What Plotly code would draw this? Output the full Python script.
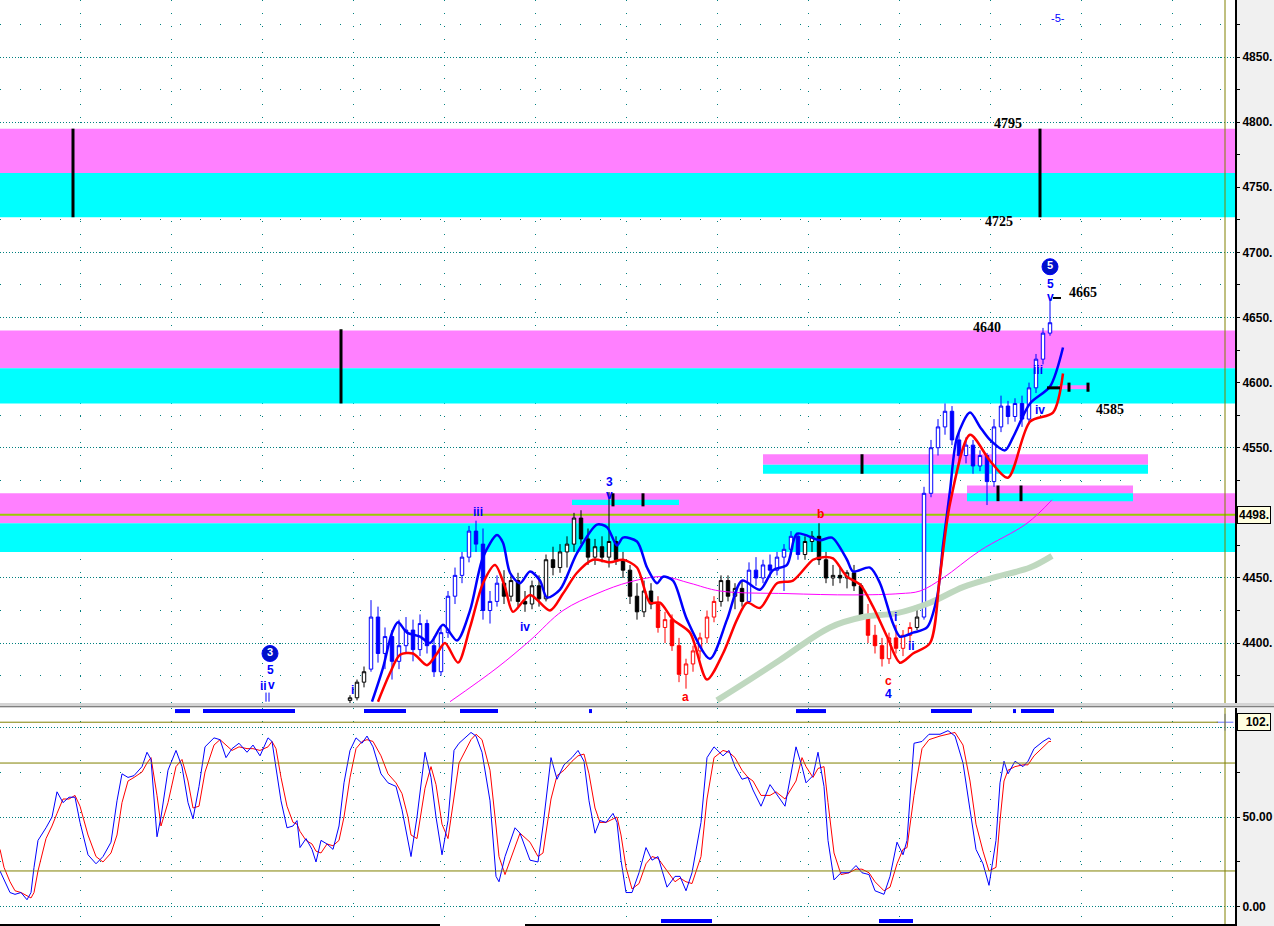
import plotly.graph_objects as go

# ------------------------------------------------------------------ data
bar_start = 350          # time of first visible candle
bar_step = 7             # time units per bar

opens = [4356, 4358, 4370, 4380, 4420, 4392, 4405, 4386, 4398, 4410, 4395, 4415, 4398, 4378, 4408, 4436, 4452, 4466, 4486, 4476,
         4425, 4432, 4446, 4436, 4448, 4432, 4430, 4444, 4434, 4464, 4458, 4470, 4476, 4496, 4480, 4466, 4474, 4466, 4478, 4464,
         4456, 4436, 4424, 4440, 4430, 4412, 4418, 4398, 4376, 4384, 4394, 4404, 4420, 4432, 4448, 4436, 4442, 4432, 4456, 4450,
         4460, 4456, 4466, 4472, 4482, 4468, 4478, 4482, 4464, 4450, 4452, 4450, 4454, 4444, 4420, 4406, 4398, 4388, 4404, 4396,
         4406, 4412, 4420, 4515, 4550, 4566, 4578, 4556, 4544, 4552, 4536, 4544, 4524, 4566, 4582, 4574, 4584, 4572, 4596, 4618,
         4638]
highs = [4360, 4372, 4382, 4433, 4428, 4412, 4410, 4418, 4420, 4418, 4422, 4418, 4405, 4412, 4440, 4458, 4470, 4490, 4494, 4488,
         4440, 4452, 4456, 4452, 4454, 4440, 4448, 4452, 4468, 4474, 4476, 4482, 4500, 4502, 4488, 4480, 4482, 4516, 4482, 4470,
         4460, 4446, 4448, 4446, 4436, 4424, 4422, 4404, 4388, 4398, 4408, 4425, 4436, 4452, 4452, 4446, 4448, 4462, 4466, 4464,
         4468, 4470, 4476, 4486, 4484, 4482, 4486, 4492, 4470, 4460, 4458, 4456, 4460, 4446, 4430, 4414, 4404, 4408, 4414, 4410,
         4416, 4428, 4520, 4556, 4572, 4584, 4582, 4562, 4558, 4556, 4548, 4546, 4572, 4590, 4586, 4588, 4590, 4600, 4622, 4642,
         4663]
lows = [4354, 4356, 4366, 4378, 4385, 4380, 4372, 4380, 4392, 4386, 4390, 4392, 4374, 4375, 4404, 4430, 4446, 4462, 4470, 4418,
        4415, 4428, 4430, 4432, 4428, 4424, 4426, 4428, 4432, 4452, 4454, 4458, 4470, 4476, 4460, 4460, 4462, 4458, 4460, 4450,
        4430, 4418, 4420, 4426, 4408, 4400, 4394, 4370, 4365, 4378, 4388, 4400, 4416, 4428, 4432, 4426, 4428, 4430, 4444, 4446,
        4450, 4452, 4440, 4468, 4464, 4464, 4470, 4460, 4446, 4444, 4446, 4442, 4440, 4418, 4400, 4392, 4382, 4384, 4392, 4390,
        4400, 4410, 4418, 4512, 4544, 4560, 4552, 4538, 4538, 4530, 4532, 4506, 4520, 4562, 4568, 4570, 4566, 4568, 4592, 4614,
        4636]
closes = [4358, 4370, 4378, 4420, 4392, 4405, 4386, 4398, 4410, 4395, 4415, 4398, 4378, 4408, 4436, 4452, 4466, 4486, 4476, 4425,
          4432, 4446, 4436, 4448, 4432, 4430, 4444, 4434, 4464, 4458, 4470, 4476, 4496, 4480, 4466, 4474, 4466, 4478, 4464, 4456,
          4436, 4424, 4440, 4430, 4412, 4418, 4398, 4376, 4384, 4394, 4404, 4420, 4432, 4448, 4436, 4442, 4432, 4456, 4450, 4460,
          4456, 4466, 4472, 4482, 4468, 4478, 4482, 4464, 4450, 4452, 4450, 4454, 4444, 4420, 4406, 4398, 4388, 4404, 4396, 4406,
          4412, 4420, 4515, 4550, 4566, 4578, 4556, 4544, 4552, 4536, 4544, 4524, 4566, 4582, 4574, 4584, 4572, 4596, 4618, 4638,
          4646]

# wave colouring of the candles: (first index, end index)
black_runs = [(0, 3), (22, 44), (53, 57), (65, 74), (81, 82)]
blue_runs = [(3, 22), (57, 65), (82, 101)]
red_runs = [(44, 53), (74, 81)]

upper_t = [372, 383, 392, 398, 407, 420, 430, 443, 457, 470, 483, 497, 503, 510, 520, 530, 540, 547, 560, 577, 597, 607,
           617, 623, 637, 647, 657, 663, 673, 687, 710, 727, 742, 760, 773, 787, 797, 820, 832, 847, 853, 870, 880, 893,
           900, 913, 927, 937, 943, 950, 957, 970, 980, 990, 1005, 1013, 1030, 1050, 1063]
upper_v = [4355, 4381, 4408, 4416, 4408, 4405, 4400, 4414, 4402, 4425, 4466, 4483, 4477, 4454, 4446, 4455, 4448, 4435,
           4441, 4469, 4491, 4489, 4475, 4481, 4478, 4458, 4446, 4451, 4448, 4418, 4388, 4418, 4448, 4441, 4456, 4460,
           4484, 4479, 4481, 4464, 4455, 4458, 4446, 4415, 4405, 4408, 4412, 4435, 4475, 4517, 4558, 4577, 4566, 4556,
           4548, 4558, 4584, 4597, 4627]

lower_t = [378, 390, 400, 413, 427, 437, 445, 458, 470, 483, 495, 505, 513, 530, 550, 563, 577, 593, 610, 623, 637, 650,
           660, 673, 690, 707, 723, 737, 747, 760, 777, 793, 813, 823, 833, 847, 860, 873, 887, 900, 913, 930, 940, 950,
           970, 990, 1008, 1030, 1053, 1063]
lower_v = [4355, 4377, 4391, 4392, 4383, 4392, 4400, 4385, 4412, 4446, 4460, 4443, 4424, 4437, 4425, 4438, 4454, 4464,
           4462, 4464, 4458, 4431, 4431, 4418, 4408, 4372, 4392, 4418, 4431, 4427, 4446, 4448, 4464, 4466, 4465, 4451,
           4445, 4428, 4405, 4385, 4392, 4400, 4452, 4507, 4560, 4540, 4527, 4570, 4577, 4607]

ma_t = [450, 497, 530, 563, 597, 630, 663, 690, 720, 787, 853, 900, 920, 943, 980, 1027, 1052]
ma_v = [4355, 4381, 4402, 4425, 4438, 4447, 4451, 4446, 4440, 4438, 4437, 4438, 4440, 4450, 4471, 4492, 4510]

ma_long_t = [717, 750, 780, 830, 863, 897, 930, 963, 997, 1030, 1052]
ma_long_v = [4356, 4372, 4387, 4412, 4420, 4423, 4431, 4443, 4451, 4458, 4467]

stoch_t = [0, 4, 10, 15, 21, 27, 31, 34, 38, 46, 52, 57, 63, 69, 75, 80, 88, 96, 103, 111, 117, 122, 128, 134, 142, 147,
           151, 157, 161, 168, 176, 182, 188, 193, 199, 205, 214, 220, 226, 232, 239, 247, 253, 260, 268, 272, 276, 281,
           287, 293, 297, 300, 306, 312, 316, 321, 327, 333, 339, 344, 350, 356, 362, 367, 373, 381, 388, 396, 402, 408,
           411, 417, 425, 431, 436, 442, 448, 454, 459, 471, 476, 482, 490, 496, 499, 505, 515, 520, 530, 538, 543, 551,
           557, 564, 572, 578, 584, 589, 595, 600, 606, 613, 617, 621, 626, 632, 639, 646, 652, 658, 667, 675, 680, 686,
           692, 701, 707, 714, 723, 729, 735, 742, 748, 753, 761, 770, 776, 785, 796, 802, 806, 813, 818, 824, 828, 834,
           841, 849, 856, 862, 869, 875, 884, 890, 897, 903, 907, 914, 922, 929, 940, 948, 955, 963, 970, 976, 983, 989,
           996, 1000, 1004, 1008, 1015, 1023, 1028, 1034, 1043, 1049, 1051]
stoch_k = [20, 15, 8, 7, 8, 4, 8, 22, 37, 44, 50, 64, 58, 61, 61, 47, 29, 24, 28, 36, 59, 74, 72, 73, 78, 86,
           82, 39, 50, 76, 87, 78, 58, 49, 67, 89, 94, 93, 83, 88, 91, 86, 90, 84, 94, 92, 78, 59,
           44, 45, 48, 33, 38, 32, 25, 37, 35, 32, 45, 69, 87, 94, 91, 95, 89, 74, 69, 67, 54, 37,
           28, 50, 86, 72, 50, 29, 48, 87, 91, 97, 95, 86, 59, 17, 14, 28, 44, 41, 26, 25, 45, 83,
           71, 79, 83, 87, 81, 59, 41, 48, 47, 52, 47, 26, 8, 8, 19, 33, 26, 28, 11, 17, 17, 9,
           19, 47, 83, 89, 84, 87, 78, 71, 72, 65, 56, 68, 63, 56, 89, 78, 69, 73, 86, 67, 37, 15,
           19, 19, 23, 19, 18, 9, 7, 17, 36, 29, 37, 91, 92, 96, 96, 98, 95, 80, 54, 32, 24, 12,
           37, 69, 81, 74, 81, 78, 81, 88, 92, 94, 93]
stoch_d = [32, 22, 14, 9, 8, 6, 5, 8, 20, 38, 45, 52, 60, 60, 62, 56, 40, 28, 25, 30, 40, 58, 70, 72, 75, 80,
           83, 62, 45, 58, 78, 82, 70, 55, 56, 75, 90, 93, 90, 87, 89, 88, 88, 87, 89, 92, 88, 72,
           56, 47, 46, 42, 37, 35, 31, 30, 35, 34, 37, 50, 72, 88, 92, 93, 92, 84, 74, 69, 63, 50,
           40, 38, 66, 78, 68, 46, 38, 60, 80, 93, 96, 93, 76, 45, 28, 18, 34, 41, 36, 28, 30, 60,
           73, 76, 81, 84, 85, 74, 55, 47, 47, 49, 50, 40, 22, 10, 13, 24, 28, 27, 20, 14, 16, 14,
           13, 28, 60, 83, 87, 86, 83, 76, 72, 70, 62, 62, 64, 60, 70, 83, 78, 72, 77, 78, 58, 30,
           18, 19, 21, 21, 19, 14, 9, 11, 24, 32, 33, 62, 88, 93, 95, 96, 97, 90, 70, 46, 31, 20,
           22, 48, 70, 76, 78, 79, 79, 84, 89, 92, 92]

signal_top = [(175, 190), (203, 295), (364, 406), (460, 498), (589, 592), (796, 826), (931, 972), (1013, 1016), (1021, 1054)]
signal_bottom = [(661, 712), (879, 913)]

# target / support zones: (t0, t1, low, high, kind)
zones = [
    (0, 1235, 4761, 4795, "m"), (0, 1235, 4727, 4761, "c"),
    (0, 1235, 4611, 4640, "m"), (0, 1235, 4584, 4611, "c"),
    (0, 1235, 4492, 4515, "m"), (0, 1235, 4470, 4492, "c"),
    (763, 1148, 4537, 4545, "m"), (763, 1148, 4530, 4537, "c"),
    (967, 1133, 4515, 4521, "m"), (967, 1133, 4509, 4515, "c"),
    (572, 679, 4506, 4510, "c"),
    (1058, 1090, 4595, 4598, "m"),
]
zone_marks = [(73, 4727, 4795), (341, 4584, 4641), (1040, 4727, 4795), (862, 4530, 4545),
              (998, 4509, 4521), (1021, 4509, 4521), (613, 4505, 4515), (643, 4505, 4515),
              (1069, 4593, 4600), (1088, 4593, 4600)]
last_price = 4498.5
stoch_level = 102.7

wave_labels = [("iii", 478, 4500.5, "b"), ("3", 609, 4524, "b"), ("v", 609, 4514, "b"), ("iv", 525, 4412, "b"),
               ("i", 352, 4364, "b"), ("a", 685, 4358.5, "r"), ("b", 820, 4499.5, "r"), ("c", 888, 4371, "r"),
               ("4", 888, 4361, "b"), ("i", 895, 4420, "b"), ("ii", 911, 4398, "b"), ("iii", 1038, 4610, "b"),
               ("iv", 1040, 4579, "b"), ("5", 1050, 4676, "b"), ("v", 1050, 4666, "b"), ("5", 270, 4379, "b"),
               ("ii", 263, 4367, "b"), ("v", 271, 4367.5, "b")]
circled = [("5", 1050, 4689), ("3", 270, 4392)]
price_notes = [("4795", 1008, 4799), ("4725", 999, 4724), ("4665", 1083, 4669.5), ("4640", 987, 4642.5),
               ("4585", 1110, 4579.5)]
top_note = ("-5-", 1058, 4880)

# ------------------------------------------------------------------ style
BLUE = "#0000ff"
RED = "#ff0000"
TEAL = "#008080"
OLIVE = "#808000"
MAG = "#ff80ff"
CYAN = "#00ffff"
W, H = 1274, 926
PLOT_W = 1235
MAIN_DOM = [(926 - 703) / 926, 1.0]
LOW_DOM = [0.0, (926 - 708) / 926]

fig = go.Figure()


def shape(**kw):
    try:
        fig.add_shape(**kw)
    except ValueError:
        if kw.get("layer") == "between":
            kw["layer"] = "below"
            fig.add_shape(**kw)
        else:
            raise


for t0, t1, lo, hi, kind in zones:
    shape(type="rect", xref="x", yref="y", x0=t0, x1=t1, y0=lo, y1=hi,
          fillcolor=MAG if kind == "m" else CYAN, line_width=0, layer="between")

shape(type="line", xref="x", yref="y", x0=0, x1=PLOT_W, y0=last_price, y1=last_price,
      line=dict(color="#99cc00", width=2), layer="between")

for t, lo, hi in zone_marks:
    shape(type="line", xref="x", yref="y", x0=t, x1=t, y0=lo, y1=hi, line=dict(color="black", width=3))
shape(type="line", xref="x", yref="y", x0=1047, x1=1060, y0=4596, y1=4596, line=dict(color="black", width=3))
shape(type="line", xref="x", yref="y", x0=1053, x1=1061, y0=4665, y1=4665, line=dict(color="black", width=2))
# small twin ticks under the circled 3
for t in (266, 269):
    shape(type="line", xref="x", yref="y", x0=t, x1=t, y0=4355, y1=4362, line=dict(color=BLUE, width=1))

# moving averages / bands
fig.add_trace(go.Scatter(x=ma_long_t, y=ma_long_v, mode="lines", line=dict(color="#bfd8bf", width=6, shape="spline"),
                         hoverinfo="skip", xaxis="x", yaxis="y"))
fig.add_trace(go.Scatter(x=ma_t, y=ma_v, mode="lines", line=dict(color="#ff00ff", width=1, shape="spline"),
                         hoverinfo="skip", xaxis="x", yaxis="y"))

# candles
candle_t = [bar_start + bar_step * i for i in range(len(opens))]


def pick(runs, arr):
    out = []
    for a, b in runs:
        out.extend(arr[a:b])
    return out


for runs, col in ((black_runs, "black"), (blue_runs, BLUE), (red_runs, RED)):
    fig.add_trace(go.Candlestick(
        x=pick(runs, candle_t), open=pick(runs, opens), high=pick(runs, highs),
        low=pick(runs, lows), close=pick(runs, closes),
        increasing=dict(line=dict(color=col, width=1), fillcolor="white"),
        decreasing=dict(line=dict(color=col, width=1), fillcolor=col),
        whiskerwidth=0, hoverinfo="skip", xaxis="x", yaxis="y"))

fig.add_trace(go.Scatter(x=upper_t, y=upper_v, mode="lines", line=dict(color=BLUE, width=2.5, shape="spline", smoothing=0.8),
                         hoverinfo="skip", xaxis="x", yaxis="y"))
fig.add_trace(go.Scatter(x=lower_t, y=lower_v, mode="lines", line=dict(color=RED, width=2.5, shape="spline", smoothing=0.8),
                         hoverinfo="skip", xaxis="x", yaxis="y"))

# circled wave numbers
fig.add_trace(go.Scatter(x=[c[1] for c in circled], y=[c[2] for c in circled], mode="markers+text",
                         text=["<b>%s</b>" % c[0] for c in circled], textposition="middle center",
                         textfont=dict(color="white", size=11, family="Liberation Sans"),
                         marker=dict(size=16, color="#0010c8", line=dict(color=BLUE, width=1)),
                         hoverinfo="skip", xaxis="x", yaxis="y"))

# stochastic
fig.add_trace(go.Scatter(x=stoch_t, y=stoch_d, mode="lines", line=dict(color=RED, width=1),
                         hoverinfo="skip", xaxis="x2", yaxis="y2"))
fig.add_trace(go.Scatter(x=stoch_t, y=stoch_k, mode="lines", line=dict(color=BLUE, width=1),
                         hoverinfo="skip", xaxis="x2", yaxis="y2"))

for lvl in (80, 20):
    shape(type="line", xref="x2", yref="y2", x0=0, x1=PLOT_W, y0=lvl, y1=lvl, line=dict(color=OLIVE, width=1))
shape(type="line", xref="x2", yref="y2", x0=0, x1=1218, y0=stoch_level, y1=stoch_level, line=dict(color=OLIVE, width=1))
for a, b in signal_top:
    shape(type="line", xref="x2", yref="y2", x0=a, x1=b, y0=108.9, y1=108.9, line=dict(color=BLUE, width=4))
for a, b in signal_bottom:
    shape(type="line", xref="x2", yref="y2", x0=a, x1=b, y0=-7.8, y1=-7.8, line=dict(color=BLUE, width=4))
fig.add_trace(go.Scatter(x=[1225], y=[stoch_level], mode="markers",
                         marker=dict(symbol="cross-thin-open", size=12, line=dict(color="black", width=1)),
                         hoverinfo="skip", xaxis="x2", yaxis="y2"))

# olive vertical cursor
for dom in (MAIN_DOM, LOW_DOM):
    shape(type="line", xref="x", yref="paper", x0=1225, x1=1225, y0=dom[0], y1=dom[1],
          line=dict(color=OLIVE, width=1))

# panel separator and bottom scroll line
shape(type="rect", xref="paper", yref="paper", x0=0, x1=W / PLOT_W, y0=LOW_DOM[1], y1=MAIN_DOM[0],
      fillcolor="#d4d4d4", line_width=0)
shape(type="line", xref="paper", yref="paper", x0=0, x1=W / PLOT_W, y0=(926 - 706.5) / 926, y1=(926 - 706.5) / 926,
      line=dict(color="#808080", width=1))
shape(type="line", xref="paper", yref="paper", x0=0, x1=440 / PLOT_W, y0=0.001, y1=0.001, line=dict(color="black", width=2))
shape(type="line", xref="paper", yref="paper", x0=525 / PLOT_W, x1=1, y0=0.001, y1=0.001, line=dict(color="black", width=2))

# annotations
ann = []
colmap = {"b": BLUE, "r": RED}
for txt, t, p, c in wave_labels:
    ann.append(dict(x=t, y=p, xref="x", yref="y", text="<b>%s</b>" % txt, showarrow=False,
                    font=dict(color=colmap[c], size=12, family="Liberation Sans")))
for txt, t, p in price_notes:
    ann.append(dict(x=t, y=p, xref="x", yref="y", text="<b>%s</b>" % txt, showarrow=False,
                    font=dict(color="black", size=14, family="Liberation Serif")))
ann.append(dict(x=top_note[1], y=top_note[2], xref="x", yref="y", text=top_note[0], showarrow=False,
                font=dict(color=BLUE, size=11, family="Liberation Sans")))
ann.append(dict(x=1237 / PLOT_W, y=last_price, xref="paper", yref="y", xanchor="left", yanchor="middle",
                text="<b>%.0f.</b>" % (last_price - 0.5), showarrow=False, bgcolor="#ffffe0", bordercolor="black",
                borderwidth=1, borderpad=1, font=dict(color="black", size=12, family="Liberation Sans")))
ann.append(dict(x=1237 / PLOT_W, y=stoch_level, xref="paper", yref="y2", xanchor="left", yanchor="middle",
                text="<b>  %d.</b>" % int(stoch_level), showarrow=False, bgcolor="#ffffe0", bordercolor="black",
                borderwidth=1, borderpad=1, font=dict(color="black", size=12, family="Liberation Sans")))

main_ticks = list(range(4400, 4851, 50))
main_text = ["" if v == 4500 else "%d." % v for v in main_ticks]
x_grid = [80, 171, 262, 353, 444, 535, 626, 717, 808, 899, 990, 1081, 1172]
axis_font = dict(color="black", size=12, family="Liberation Sans", weight="bold")

xcommon = dict(range=[0, PLOT_W], showticklabels=False, ticks="", tickvals=x_grid, showgrid=True,
               gridcolor=TEAL, griddash="1px,12px", gridwidth=1, zeroline=False, showline=False,
               rangeslider=dict(visible=False), fixedrange=True, automargin=False)

fig.update_layout(
    width=W, height=H, autosize=False, margin=dict(l=0, r=W - PLOT_W, t=0, b=0, pad=0, autoexpand=False),
    paper_bgcolor="#f0f0f0", plot_bgcolor="white", showlegend=False,
    annotations=ann,
    xaxis=dict(anchor="y", **xcommon),
    xaxis2=dict(anchor="y2", matches="x", **xcommon),
    yaxis=dict(domain=MAIN_DOM, range=[4354, 4893.8], side="right", tickvals=main_ticks,
               ticktext=main_text, tickfont=axis_font, ticks="outside", ticklen=3, automargin=False,
               tickcolor="black", showline=True, linecolor="black", linewidth=2, showgrid=True, gridcolor=TEAL,
               griddash="1px,2px", zeroline=False, anchor="x", fixedrange=True,
               minor=dict(dtick=25, tick0=4375, ticks="outside", ticklen=3, tickcolor="black", showgrid=True,
                          gridcolor=TEAL, griddash="1px,19px")),
    yaxis2=dict(domain=LOW_DOM, range=[-10.6, 110.6], side="right", tickvals=[0, 50, 100],
                ticktext=["0.00", "50.00", ""], tickfont=axis_font, ticks="outside", ticklen=3, automargin=False,
                tickcolor="black", showline=True, linecolor="black", linewidth=2, showgrid=True, gridcolor=TEAL,
                griddash="1px,2px", zeroline=False, anchor="x2", fixedrange=True,
                minor=dict(dtick=25, tick0=25, ticks="outside", ticklen=3, tickcolor="black", showgrid=True,
                           gridcolor=TEAL, griddash="1px,19px")),
)

fig.write_html(
    "out.html",
    config={"responsive": False, "displayModeBar": False},
    post_script="document.body.style.margin='0px';document.body.style.overflow='hidden';"
                "Plotly.Plots.resize(document.getElementById('{plot_id}'));",
)
